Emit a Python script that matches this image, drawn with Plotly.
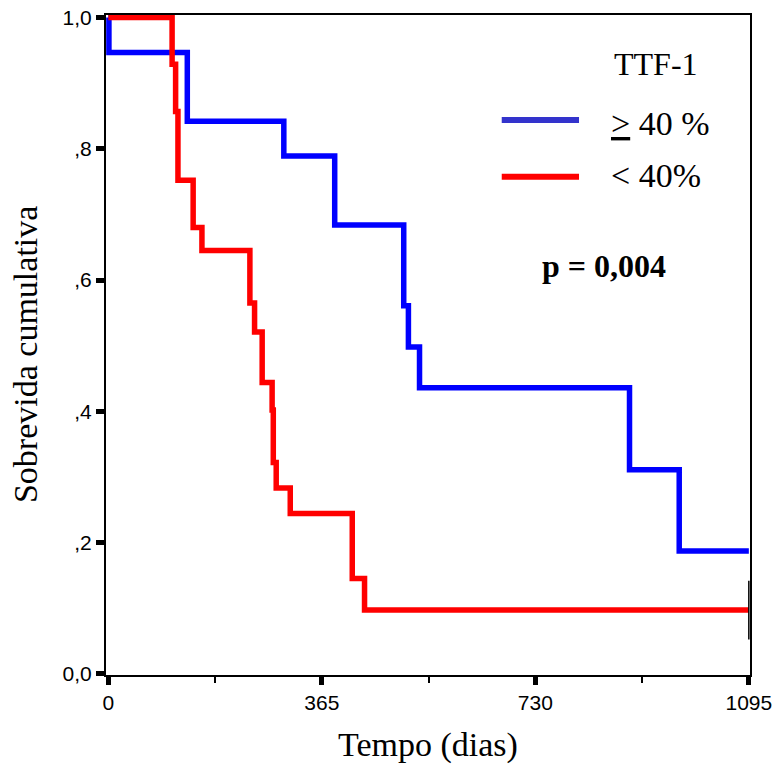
import plotly.graph_objects as go

# Kaplan-Meier step data (days, cumulative survival)
blue_times = [0, 1, 135, 300, 387, 505, 513, 532, 891, 976, 1095]
blue_surv = [1.0, 0.947, 0.842, 0.789, 0.684, 0.561, 0.498, 0.436, 0.311, 0.187, 0.187]

red_times = [0, 109, 115, 119, 145, 160, 242, 250, 263, 280, 282, 287, 311, 417, 438, 1095]
red_surv = [1.0, 0.929, 0.857, 0.752, 0.680, 0.645, 0.565, 0.521, 0.444, 0.402, 0.322, 0.283, 0.244, 0.145, 0.097, 0.097]

censor_times = [1095]
censor_surv = [0.097]

x_tickvals = [0, 365, 730, 1095]
x_ticktext = ["0", "365", "730", "1095"]
x_minor_vals = [182.5, 547.5, 912.5]
y_tickvals = [0.0, 0.2, 0.4, 0.6, 0.8, 1.0]
y_ticktext = ["0,0", ",2", ",4", ",6", ",8", "1,0"]

legend_labels = ["<u>&gt;</u> 40 %", "&lt; 40%"]
legend_colors = ["#3333cc", "#ff0000"]
legend_title = "TTF-1"
p_text = "<b>p = 0,004</b>"

fig = go.Figure()
fig.add_trace(go.Scatter(x=blue_times, y=blue_surv, mode="lines", line_shape="hv",
                         line=dict(color="#0000ff", width=5.5), showlegend=False))
fig.add_trace(go.Scatter(x=red_times, y=red_surv, mode="lines", line_shape="hv",
                         line=dict(color="#ff0000", width=5.5), showlegend=False))
fig.add_trace(go.Scatter(x=censor_times, y=censor_surv, mode="markers", cliponaxis=False,
                         marker=dict(symbol="line-ns", size=42, line=dict(color="black", width=1.5)),
                         showlegend=False))

serif = "Liberation Serif, Times New Roman, serif"
sans = "Liberation Sans, Arial, sans-serif"

fig.update_xaxes(range=[-4, 1097], tickvals=x_tickvals, ticktext=x_ticktext, automargin=False,
                 showline=True, linecolor="black", linewidth=2, mirror=True,
                 ticks="outside", ticklen=8, tickwidth=5, tickcolor="black",
                 minor=dict(tickvals=x_minor_vals, ticks="outside", ticklen=6, tickwidth=2, tickcolor="black"),
                 showgrid=False, zeroline=False,
                 tickfont=dict(family=sans, size=21, color="black"))
fig.update_yaxes(range=[-0.002, 1.004], tickvals=y_tickvals, ticktext=y_ticktext, automargin=False,
                 showline=True, linecolor="black", linewidth=2, mirror=True,
                 ticks="outside", ticklen=8, tickwidth=5, tickcolor="black",
                 showgrid=False, zeroline=False,
                 tickfont=dict(family=sans, size=21, color="black"))

annotations = [
    dict(text="Tempo (dias)", x=0.5, y=-0.106, xref="paper", yref="paper", showarrow=False,
         xanchor="center", yanchor="middle", font=dict(family=serif, size=34, color="black")),
    dict(text="Sobrevida cumulativa", x=-0.124, y=0.485, xref="paper", yref="paper", showarrow=False,
         textangle=-90, xanchor="center", yanchor="middle", font=dict(family=serif, size=34, color="black")),
    dict(text=legend_title, x=0.786, y=0.926, xref="paper", yref="paper", showarrow=False,
         xanchor="left", yanchor="middle", font=dict(family=serif, size=32, color="black")),
    dict(text=legend_labels[0], x=0.781, y=0.836, xref="paper", yref="paper", showarrow=False,
         xanchor="left", yanchor="middle", font=dict(family=serif, size=34, color="black")),
    dict(text=legend_labels[1], x=0.781, y=0.757, xref="paper", yref="paper", showarrow=False,
         xanchor="left", yanchor="middle", font=dict(family=serif, size=34, color="black")),
    dict(text=p_text, x=0.773, y=0.619, xref="paper", yref="paper", showarrow=False,
         xanchor="center", yanchor="middle", font=dict(family=serif, size=32, color="black")),
]

shapes = [
    dict(type="line", xref="paper", yref="paper", x0=0.6145, x1=0.7345, y0=0.841, y1=0.841,
         line=dict(color=legend_colors[0], width=6)),
    dict(type="line", xref="paper", yref="paper", x0=0.6145, x1=0.7345, y0=0.755, y1=0.755,
         line=dict(color=legend_colors[1], width=6)),
]

fig.update_layout(width=776, height=769, margin=dict(l=106, r=26, t=15, b=94),
                  paper_bgcolor="white", plot_bgcolor="white",
                  annotations=annotations, shapes=shapes, showlegend=False)

fig.write_html("out.html")
